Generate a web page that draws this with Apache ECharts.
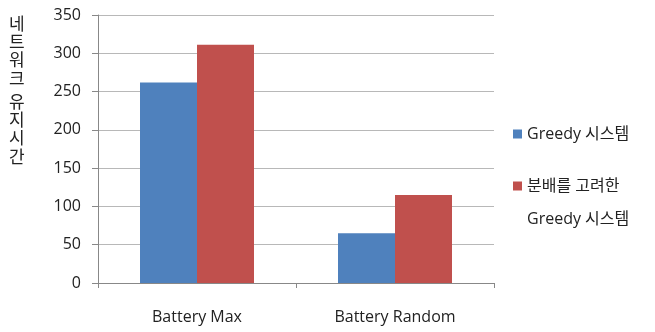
<!DOCTYPE html>
<html>
<head>
<meta charset="utf-8">
<script src="https://cdn.jsdelivr.net/npm/echarts@6/dist/echarts.min.js"></script>
<style>
html,body{margin:0;padding:0;background:#fff;}
#chart{width:655px;height:332px;}
</style>
</head>
<body>
<div id="chart"></div>
<script>
// Network lifetime per battery scenario
const categories = ['Battery Max', 'Battery Random'];
const greedy = [262, 65];
const distGreedy = [311, 115];
const seriesNames = ['Greedy 시스템', '분배를 고려한 Greedy 시스템'];
const yTicks = { min: 0, max: 350, interval: 50 };

const FONT = "'Open Sans', 'Noto Sans CJK KR', sans-serif";
const TEXT = '#222';

const chart = echarts.init(document.getElementById('chart'), null, { renderer: 'canvas' });
chart.setOption({
  animation: false,
  backgroundColor: '#fff',
  grid: { left: 98, top: 15, right: 161, bottom: 49, containLabel: false },
  legend: {
    orient: 'vertical',
    left: 513,
    top: 126,
    padding: 0,
    itemWidth: 9,
    itemHeight: 9,
    itemGap: 36,
    icon: 'rect',
    data: seriesNames,
    formatter: name => name === seriesNames[1] ? '분배를 고려한' : name,
    textStyle: { fontFamily: FONT, fontSize: 16, color: TEXT, padding: [3, 0, 0, 0] }
  },
  xAxis: {
    type: 'category',
    data: categories,
    axisLine: { lineStyle: { color: '#888', width: 1 } },
    axisTick: { show: true, length: 5, lineStyle: { color: '#888' } },
    axisLabel: { fontFamily: FONT, fontSize: 16, color: TEXT, margin: 26 }
  },
  yAxis: {
    type: 'value',
    min: yTicks.min,
    max: yTicks.max,
    interval: yTicks.interval,
    axisLine: { show: true, lineStyle: { color: '#888', width: 1 } },
    axisTick: { show: true, length: 6, lineStyle: { color: '#888' } },
    axisLabel: { fontFamily: FONT, fontSize: 16, color: TEXT, margin: 17 },
    splitLine: { lineStyle: { color: '#b8b8b8', width: 1 } }
  },
  series: [
    {
      name: seriesNames[0], type: 'bar', data: greedy,
      barWidth: 57, barGap: '0%',
      itemStyle: { color: '#4F81BD' }
    },
    {
      name: seriesNames[1], type: 'bar', data: distGreedy,
      barWidth: 57, barGap: '0%',
      itemStyle: { color: '#C0504D' }
    }
  ],
  graphic: [
    {
      type: 'text', left: 9, top: 16,
      style: { text: '네\n트\n워\n크', font: '17px ' + FONT, fill: TEXT, lineHeight: 18.2 }
    },
    {
      type: 'text', left: 9, top: 94,
      style: { text: '유\n지\n시\n간', font: '17px ' + FONT, fill: TEXT, lineHeight: 18.2 }
    },
    {
      type: 'text', left: 527, top: 211,
      style: { text: 'Greedy 시스템', font: '16px ' + FONT, fill: TEXT }
    }
  ]
});
</script>
</body>
</html>
